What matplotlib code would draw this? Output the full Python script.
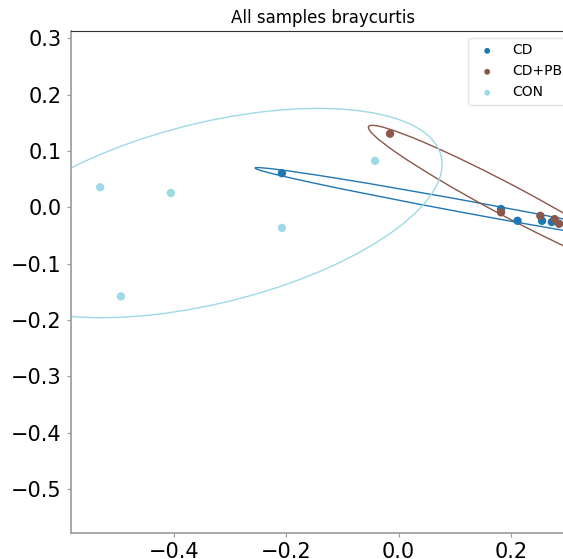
import numpy as np
import matplotlib
matplotlib.use("Agg")
import matplotlib.pyplot as plt
from matplotlib.patches import Ellipse
import matplotlib.transforms as transforms

groups = ["CD", "CD+PB", "CON"]
colors = ["#1f77b4", "#8c564b", "#9edae5"]

cd_x = [-0.208, 0.1825, 0.212, 0.2556, 0.273]
cd_y = [0.0606, -0.003, -0.0239, -0.0239, -0.026]
cdpb_x = [-0.0153, 0.1825, 0.2526, 0.278, 0.286]
cdpb_y = [0.1307, -0.0089, -0.015, -0.0209, -0.0292]
con_x = [-0.532, -0.406, -0.208, -0.042, -0.495]
con_y = [0.0357, 0.0255, -0.0364, 0.0825, -0.158]

xs = [cd_x, cdpb_x, con_x]
ys = [cd_y, cdpb_y, con_y]

xticks = [-0.4, -0.2, 0.0, 0.2]
yticks = [-0.5, -0.4, -0.3, -0.2, -0.1, 0.0, 0.1, 0.2, 0.3]


def confidence_ellipse(x, y, ax, n_std=2.0, **kwargs):
    x = np.asarray(x)
    y = np.asarray(y)
    cov = np.cov(x, y)
    pearson = cov[0, 1] / np.sqrt(cov[0, 0] * cov[1, 1])
    rx = np.sqrt(1 + pearson)
    ry = np.sqrt(1 - pearson)
    ell = Ellipse((0, 0), width=rx * 2, height=ry * 2, facecolor="none", **kwargs)
    sx = np.sqrt(cov[0, 0]) * n_std
    sy = np.sqrt(cov[1, 1]) * n_std
    tr = transforms.Affine2D().rotate_deg(45).scale(sx, sy).translate(x.mean(), y.mean())
    ell.set_transform(tr + ax.transData)
    return ax.add_patch(ell)


W, H = 563, 559
fig = plt.figure(figsize=(W / 100, H / 100), dpi=100)
left, right, top, bottom = 70.7, 574.8, 31, 533
ax = fig.add_axes([left / W, 1 - bottom / H, (right - left) / W, (bottom - top) / H])

for g, c, x, y in zip(groups, colors, xs, ys):
    ax.scatter(x, y, color=c, s=36, label=g, zorder=3, edgecolors="none")
    confidence_ellipse(x, y, ax, n_std=2.0, edgecolor=c, linewidth=1.0)

ax.set_xlim(-0.5845, 0.314)
ax.set_ylim(-0.578, 0.313)
ax.set_xticks(xticks)
ax.set_yticks(yticks)
ax.tick_params(labelsize=15, color="#999999", length=3)
ax.set_title("All samples braycurtis", fontsize=12)

ax.spines["left"].set_color("#999999")
ax.spines["bottom"].set_color("#999999")
ax.spines["left"].set_linewidth(1.2)
ax.spines["bottom"].set_linewidth(1.2)
ax.spines["top"].set_color("#333333")
ax.spines["right"].set_visible(False)

ax.legend(loc="upper right", fontsize=10, markerscale=0.7, framealpha=0.8,
          edgecolor="#dddddd")

fig.savefig("out.png", dpi=100)
